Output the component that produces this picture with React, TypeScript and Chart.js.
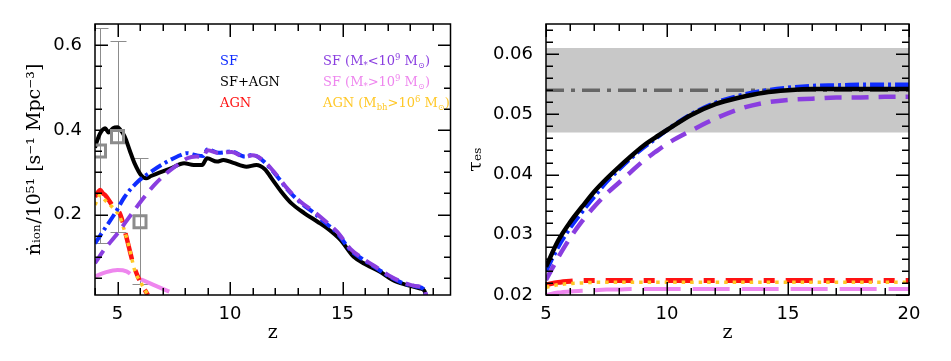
import React, { useEffect, useRef } from "react";
import { Chart, registerables } from "chart.js";

Chart.register(...registerables);

// ---------------- Left panel: ionizing emissivity ----------------
const sfAgnZ = [4.0, 4.1, 4.23, 4.45, 4.6, 4.8, 5.0, 5.1, 5.32, 5.54, 5.76, 6.05, 6.27, 6.49, 6.86, 7.37, 7.96, 8.39, 8.76, 8.98, 9.42, 9.71, 10.15, 10.73, 11.17, 11.55, 11.84, 12.28, 12.72, 13.31, 13.89, 14.33, 14.91, 15.5, 16.08, 16.67, 17.25, 17.84, 18.42, 18.64, 18.72];
const sfAgnV = [0.358, 0.375, 0.392, 0.404, 0.394, 0.404, 0.406, 0.402, 0.384, 0.352, 0.321, 0.293, 0.286, 0.291, 0.299, 0.309, 0.321, 0.317, 0.317, 0.333, 0.325, 0.329, 0.322, 0.313, 0.317, 0.307, 0.286, 0.254, 0.227, 0.203, 0.183, 0.167, 0.14, 0.1, 0.081, 0.065, 0.045, 0.034, 0.026, 0.02, 0.006];

const sfZ = [4.0, 4.45, 4.89, 5.32, 5.91, 6.49, 7.08, 7.66, 8.1, 8.5, 8.8, 9.0, 9.5, 10.07, 10.65, 11.0, 11.38, 11.99, 12.57, 13.16, 13.75, 14.18, 14.77, 15.35, 15.94, 16.52, 17.1, 17.69, 18.28, 18.64, 18.72];
const sfV = [0.132, 0.168, 0.203, 0.242, 0.278, 0.301, 0.321, 0.337, 0.345, 0.34, 0.338, 0.354, 0.346, 0.349, 0.337, 0.341, 0.331, 0.297, 0.258, 0.227, 0.203, 0.183, 0.156, 0.116, 0.093, 0.073, 0.053, 0.038, 0.03, 0.022, 0.006];

const sfLowZ = [4.0, 4.45, 4.89, 5.32, 5.76, 6.2, 6.64, 7.08, 7.66, 8.1, 8.5, 8.8, 9.0, 9.5, 10.07, 10.65, 11.0, 11.4, 12.0, 12.57, 13.16, 13.75, 14.18, 14.77, 15.35, 15.94, 16.52, 17.1, 17.69, 18.28, 18.64, 18.72];
const sfLowV = [0.085, 0.12, 0.148, 0.179, 0.211, 0.242, 0.27, 0.293, 0.317, 0.333, 0.337, 0.336, 0.352, 0.345, 0.348, 0.336, 0.34, 0.331, 0.298, 0.26, 0.229, 0.206, 0.187, 0.159, 0.119, 0.095, 0.075, 0.055, 0.04, 0.031, 0.024, 0.008];

const agnZ = [4.0, 4.12, 4.23, 4.35, 4.45, 4.81, 5.1, 5.25, 5.39, 5.54, 5.69, 5.91, 6.13, 6.35];
const agnV = [0.242, 0.252, 0.258, 0.25, 0.246, 0.219, 0.203, 0.179, 0.148, 0.116, 0.085, 0.053, 0.03, 0.01];

const agnHiZ = [4.0, 4.23, 4.45, 4.81, 5.1, 5.32, 5.47, 5.62, 5.76, 6.05, 6.35];
const agnHiV = [0.223, 0.246, 0.234, 0.215, 0.195, 0.16, 0.132, 0.1, 0.069, 0.038, 0.01];

const sfHiZ = [4.0, 4.5, 5.0, 5.4, 5.7, 6.0, 6.6, 7.3];
const sfHiV = [0.054, 0.064, 0.069, 0.066, 0.055, 0.048, 0.034, 0.018];

// observational points with error bars
const obsZ = [4.2, 5.0, 6.0];
const obsV = [0.35, 0.384, 0.183];
const obsLo = [0.132, 0.158, 0.035];
const obsHi = [0.64, 0.611, 0.333];

const leftXTicks = [5, 10, 15];
const leftYTicks = [0.2, 0.4, 0.6];

const legendLabels = ["SF", "SF+AGN", "AGN", "SF (M_{*}<10^{9} M_{⊙})", "SF (M_{*}>10^{9} M_{⊙})", "AGN (M_{bh}>10^{6} M_{⊙})"];

// ---------------- Right panel: optical depth ----------------
const tauZ = [5, 5.5, 6, 6.5, 7, 7.5, 8, 8.5, 9, 9.5, 10, 11, 12, 13, 14, 15, 16, 17, 18, 19, 20];
const tauAll = [0.0247, 0.029, 0.0321, 0.0347, 0.0372, 0.0393, 0.0412, 0.043, 0.0447, 0.0461, 0.0474, 0.0499, 0.0517, 0.0528, 0.0536, 0.054, 0.0542, 0.0542, 0.0542, 0.0542, 0.0542];
const tauSF = [0.024, 0.028, 0.0312, 0.0339, 0.0364, 0.0388, 0.0408, 0.0427, 0.0444, 0.0459, 0.0474, 0.05, 0.0519, 0.0531, 0.0539, 0.0544, 0.0547, 0.0548, 0.0549, 0.0549, 0.0549];
const tauSFLow = [0.0225, 0.0262, 0.0295, 0.0323, 0.0347, 0.0368, 0.0386, 0.0404, 0.0422, 0.0437, 0.0451, 0.0473, 0.0493, 0.0509, 0.0519, 0.0524, 0.0526, 0.0528, 0.0528, 0.0529, 0.0529];
const tauAGN = [0.0217, 0.0221, 0.0223, 0.0224, 0.0224, 0.0224, 0.0224, 0.0224, 0.0224, 0.0224, 0.0224, 0.0224, 0.0224, 0.0224, 0.0224, 0.0224, 0.0224, 0.0224, 0.0224, 0.0224, 0.0224];
const tauAGNHi = [0.0213, 0.0217, 0.0219, 0.022, 0.0221, 0.0221, 0.0221, 0.0221, 0.0221, 0.0221, 0.0221, 0.0221, 0.0221, 0.0221, 0.0221, 0.0221, 0.0221, 0.0221, 0.0221, 0.0221, 0.0221];
const tauSFHi = [0.02, 0.0204, 0.0206, 0.0207, 0.0208, 0.0209, 0.0209, 0.021, 0.021, 0.021, 0.021, 0.021, 0.021, 0.021, 0.021, 0.021, 0.021, 0.021, 0.021, 0.021, 0.021];

const planckZ = [5, 20];
const planckTau = 0.054;
const planckLow = 0.047;
const planckHigh = 0.061;

const rightXTicks = [5, 10, 15, 20];
const rightYTicks = [0.02, 0.03, 0.04, 0.05, 0.06];

// minor tick positions (drawn inward on all four sides)
const leftXMinor = [4, 5, 6, 7, 8, 9, 10, 11, 12, 13, 14, 15, 16, 17, 18, 19];
const leftYMinor = [0.05, 0.1, 0.15, 0.2, 0.25, 0.3, 0.35, 0.4, 0.45, 0.5, 0.55, 0.6];
const rightXMinor = [5, 6, 7, 8, 9, 10, 11, 12, 13, 14, 15, 16, 17, 18, 19, 20];
const rightYMinor = [0.02, 0.022, 0.024, 0.026, 0.028, 0.03, 0.032, 0.034, 0.036, 0.038, 0.04, 0.042, 0.044, 0.046, 0.048, 0.05, 0.052, 0.054, 0.056, 0.058, 0.06, 0.062, 0.064];

// ---------------- styles ----------------
const BLUE = "#0f2dff";
const BLACK = "#000000";
const RED = "#ff1212";
const PURPLE = "#8a3ee0";
const PINK = "#ee86ee";
const GOLD = "#ffc828";
const GRAY = "#8c8c8c";
const legendColors = [BLUE, BLACK, RED, PURPLE, PINK, GOLD];

const TICK_FONT = { family: "'DejaVu Sans', sans-serif", size: 18 };
const TITLE_FONT = { family: "'DejaVu Serif', serif", size: 19 };

function pts(zs: number[], vs: number[]) {
  return zs.map((z, i) => ({ x: z, y: vs[i] }));
}

function drawRich(ctx: CanvasRenderingContext2D, text: string, x: number, y: number, size: number, family: string, color: string) {
  const parts: { t: string; k: string }[] = [];
  const re = /([_^])\{([^}]*)\}/g;
  let last = 0;
  let m: RegExpExecArray | null;
  while ((m = re.exec(text))) {
    if (m.index > last) parts.push({ t: text.slice(last, m.index), k: "" });
    parts.push({ t: m[2], k: m[1] });
    last = re.lastIndex;
  }
  if (last < text.length) parts.push({ t: text.slice(last), k: "" });
  ctx.fillStyle = color;
  ctx.textBaseline = "middle";
  ctx.textAlign = "left";
  let cx = x;
  for (const p of parts) {
    const s = p.k ? size * 0.65 : size;
    ctx.font = `${s}px ${family}`;
    const dy = p.k === "^" ? -size * 0.36 : p.k === "_" ? size * 0.3 : 0;
    ctx.fillText(p.t, cx, y + dy);
    cx += ctx.measureText(p.t).width;
  }
}

function makeFramePlugin(pid: string, xMinor: number[], xMajor: number[], yMinor: number[], yMajor: number[]) {
  return {
    id: pid,
    afterDraw(chart: any) {
      const ctx = chart.ctx as CanvasRenderingContext2D;
      const a = chart.chartArea;
      const xs = chart.scales["x"];
      const ys = chart.scales["y"];
      const L = Math.round(a.left);
      const R = Math.round(a.right);
      const T = Math.round(a.top);
      const B = Math.round(a.bottom);
      ctx.save();
      ctx.globalAlpha = 1;
      ctx.globalCompositeOperation = "source-over";
      ctx.fillStyle = "#000000";
      const hasMaj = (arr: number[], v: number) => arr.some((m) => Math.abs(m - v) < 1e-9);
      for (const v of xMinor) {
        const p = Math.round(xs.getPixelForValue(v));
        const len = hasMaj(xMajor, v) ? 13 : 7;
        ctx.fillRect(p - 0.5, B - len, 1.5, len);
        ctx.fillRect(p - 0.5, T, 1.5, len);
      }
      for (const v of yMinor) {
        const p = Math.round(ys.getPixelForValue(v));
        const len = hasMaj(yMajor, v) ? 13 : 7;
        ctx.fillRect(L, p - 0.5, len, 1.5);
        ctx.fillRect(R - len, p - 0.5, len, 1.5);
      }
      ctx.strokeStyle = "#000";
      ctx.lineWidth = 1.5;
      ctx.setLineDash([]);
      ctx.strokeRect(a.left, a.top, a.right - a.left, a.bottom - a.top);
      ctx.restore();
    },
  };
}

const errorBarPlugin = {
  id: "obsErrors",
  beforeDatasetsDraw(chart: any) {
    const { ctx, chartArea: a } = chart;
    const xs = chart.scales.x;
    const ys = chart.scales.y;
    ctx.save();
    ctx.beginPath();
    ctx.rect(a.left, a.top, a.right - a.left, a.bottom - a.top);
    ctx.clip();
    ctx.strokeStyle = GRAY;
    ctx.lineWidth = 1;
    ctx.setLineDash([]);
    ctx.beginPath();
    obsZ.forEach((z, i) => {
      const x = Math.round(xs.getPixelForValue(z)) + 0.5;
      const yl = Math.round(ys.getPixelForValue(obsLo[i])) + 0.5;
      const yh = Math.round(ys.getPixelForValue(obsHi[i])) + 0.5;
      ctx.moveTo(x, yl);
      ctx.lineTo(x, yh);
      ctx.moveTo(x - 8, yl);
      ctx.lineTo(x + 8, yl);
      ctx.moveTo(x - 8, yh);
      ctx.lineTo(x + 8, yh);
    });
    ctx.stroke();
    ctx.restore();
  },
};

const legendPlugin = {
  id: "textLegend",
  afterDraw(chart: any) {
    const ctx = chart.ctx;
    ctx.save();
    const colX = [220, 323];
    const rowY = [62, 83, 104];
    legendLabels.forEach((t, i) => {
      const col = Math.floor(i / 3);
      const row = i % 3;
      drawRich(ctx, t, colX[col], rowY[row], 13, "'DejaVu Serif', serif", legendColors[i]);
    });
    ctx.restore();
  },
};

function lineDs(label: string, data: any[], color: string, width: number, dash: number[], order: number) {
  return {
    label,
    data,
    borderColor: color,
    backgroundColor: color,
    borderWidth: width,
    borderDash: dash,
    borderCapStyle: "butt",
    pointRadius: 0,
    fill: false,
    cubicInterpolationMode: "monotone",
    order,
  };
}

function axes(xmin: number, xmax: number, ymin: number, ymax: number, xt: number[], yt: number[], yWidth: number, yDigits: number, yTitle: string, yTitlePad: number) {
  return {
    x: {
      type: "linear",
      min: xmin,
      max: xmax,
      afterFit: (s: any) => {
        s.height = 66;
      },
      afterBuildTicks: (s: any) => {
        s.ticks = xt.map((v) => ({ value: v }));
      },
      grid: { display: false, drawTicks: false },
      border: { display: false },
      ticks: { padding: 9, font: TICK_FONT, color: "#000", autoSkip: false, maxRotation: 0, callback: (v: any) => String(v) },
      title: { display: true, text: "z", font: TITLE_FONT, color: "#000", padding: { top: 0, bottom: 17 } },
    },
    y: {
      type: "linear",
      min: ymin,
      max: ymax,
      afterFit: (s: any) => {
        s.width = yWidth;
      },
      afterBuildTicks: (s: any) => {
        s.ticks = yt.map((v) => ({ value: v }));
      },
      grid: { display: false, drawTicks: false },
      border: { display: false },
      ticks: { padding: 13, font: TICK_FONT, color: "#000", autoSkip: false, callback: (v: any) => Number(v).toFixed(yDigits) },
      title: { display: true, text: yTitle, font: TITLE_FONT, color: "#000", padding: { top: yTitlePad, bottom: 0 } },
    },
  };
}

function leftConfig(): any {
  return {
    type: "line",
    data: {
      datasets: [
        {
          label: "Observations",
          data: pts(obsZ, obsV),
          showLine: false,
          pointStyle: "rect",
          pointRadius: 8.5,
          pointBorderWidth: 3,
          pointBorderColor: GRAY,
          pointBackgroundColor: "rgba(0,0,0,0)",
          borderColor: GRAY,
          order: 0,
        },
        lineDs("SF (M* < 10^9 M⊙)", pts(sfLowZ, sfLowV), PURPLE, 4, [15, 8], 2),
        lineDs("SF", pts(sfZ, sfV), BLUE, 4, [12, 4, 3, 4], 3),
        lineDs("SF+AGN", pts(sfAgnZ, sfAgnV), BLACK, 4, [], 4),
        lineDs("AGN (Mbh > 10^6 M⊙)", pts(agnHiZ, agnHiV), GOLD, 3.5, [3.5, 5], 5),
        lineDs("AGN", pts(agnZ, agnV), RED, 4.5, [27, 11, 11, 11], 6),
        lineDs("SF (M* > 10^9 M⊙)", pts(sfHiZ, sfHiV), PINK, 4, [37, 12], 7),
      ],
    },
    options: {
      responsive: false,
      maintainAspectRatio: false,
      animation: false,
      layout: { padding: { left: 0, top: 24, right: 5, bottom: 0 } },
      plugins: {
        legend: { display: false },
        tooltip: { enabled: false },
      },
      scales: axes(4, 19.8, 0.01, 0.65, leftXTicks, leftYTicks, 95, 1, "ṅᵢₒₙ/10⁵¹ [s⁻¹ Mpc⁻³]", 24),
    },
    plugins: [errorBarPlugin, legendPlugin, makeFramePlugin("frameLeft", leftXMinor, leftXTicks, leftYMinor, leftYTicks)],
  };
}

function rightConfig(): any {
  return {
    type: "line",
    data: {
      datasets: [
        {
          label: "Planck 1σ",
          data: pts(planckZ, [planckHigh, planckHigh]),
          borderWidth: 0,
          borderColor: "rgba(0,0,0,0)",
          backgroundColor: "#c8c8c8",
          pointRadius: 0,
          fill: { value: planckLow },
          order: 20,
        },
        lineDs("Planck", pts(planckZ, [planckTau, planckTau]), "#666666", 3.5, [18, 7, 4, 7], 15),
        lineDs("SF+AGN", pts(tauZ, tauAll), BLACK, 4.5, [], 2),
        lineDs("SF (M* < 10^9 M⊙)", pts(tauZ, tauSFLow), PURPLE, 4.5, [17, 10], 3),
        lineDs("SF", pts(tauZ, tauSF), BLUE, 4.5, [14, 4, 3, 4], 4),
        lineDs("AGN (Mbh > 10^6 M⊙)", pts(tauZ, tauAGNHi), GOLD, 3.5, [3.5, 5], 5),
        lineDs("AGN", pts(tauZ, tauAGN), RED, 5, [27, 11, 11, 11], 6),
        lineDs("SF (M* > 10^9 M⊙)", pts(tauZ, tauSFHi), PINK, 4, [37, 12], 7),
      ],
    },
    options: {
      responsive: false,
      maintainAspectRatio: false,
      animation: false,
      layout: { padding: { left: 0, top: 24, right: 42, bottom: 0 } },
      plugins: {
        legend: { display: false },
        tooltip: { enabled: false },
        filler: { propagate: false },
      },
      scales: axes(5, 20, 0.02, 0.065, rightXTicks, rightYTicks, 84, 2, "τₑₛ", 3),
    },
    plugins: [makeFramePlugin("frameRight", rightXMinor, rightXTicks, rightYMinor, rightYTicks)],
  };
}

export default function App() {
  const leftRef = useRef<HTMLCanvasElement>(null);
  const rightRef = useRef<HTMLCanvasElement>(null);
  useEffect(() => {
    const c1 = new Chart(leftRef.current as HTMLCanvasElement, leftConfig());
    const c2 = new Chart(rightRef.current as HTMLCanvasElement, rightConfig());
    return () => {
      c1.destroy();
      c2.destroy();
    };
  }, []);
  return (
    <div style={{ position: "fixed", left: 0, top: 0, width: 951, height: 361, background: "#fff" }}>
      <canvas ref={leftRef} width={462} height={361} style={{ position: "absolute", left: 0, top: 0 }} />
      <canvas ref={rightRef} width={489} height={361} style={{ position: "absolute", left: 462, top: 0 }} />
    </div>
  );
}
